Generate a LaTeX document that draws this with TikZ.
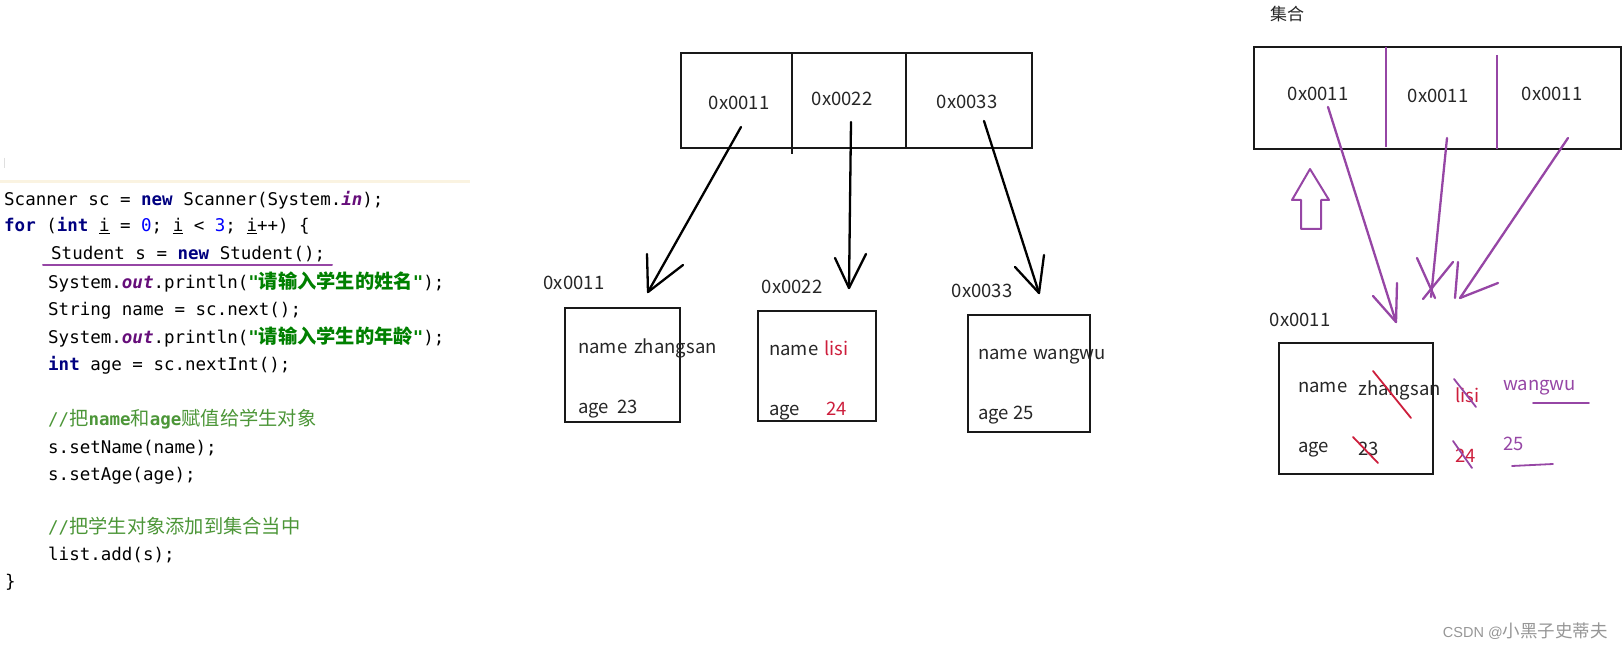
\documentclass[tikz,border=0pt]{standalone}
\usepackage{fontspec}
\setmonofont{DejaVu Sans Mono}
\newfontfamily\cjk{Noto Sans CJK SC}
\newfontfamily\zhcode{Noto Sans CJK SC}[Scale=1.1]
\newfontfamily\wmfont{Liberation Sans}
\usepackage{xcolor}
\usetikzlibrary{positioning}

\definecolor{kwblue}{RGB}{0,0,128}
\definecolor{fldpurple}{RGB}{102,14,122}
\definecolor{strgreen}{RGB}{0,128,0}
\definecolor{numblue}{RGB}{0,0,255}
\definecolor{cmtgreen}{RGB}{76,150,56}
\definecolor{penpurple}{RGB}{150,70,165}
\definecolor{penred}{RGB}{205,30,60}
\definecolor{wmgray}{RGB}{150,150,150}
\definecolor{bandbeige}{RGB}{250,243,225}

\newcommand{\kw}[1]{{\color{kwblue}\bfseries #1}}
\newcommand{\fld}[1]{{\color{fldpurple}\bfseries\itshape #1}}
\newcommand{\strg}[1]{{\color{strgreen}\bfseries #1}}
\newcommand{\numb}[1]{{\color{numblue}#1}}
\newcommand{\zh}[1]{{\zhcode #1}}
\newcommand{\cmt}[1]{{\color{cmtgreen}#1}}

\begin{document}
\begin{tikzpicture}[x=1pt, y=-1pt,
    code/.style={anchor=base west, inner sep=0pt, font=\ttfamily\frenchspacing\fontsize{17.5}{20}\selectfont},
    addr/.style={anchor=base, inner sep=0pt, text=black!85, font=\cjk\fontsize{18.5}{20}\selectfont},
    field/.style={anchor=base west, inner sep=0pt, text=black!85, font=\cjk\fontsize{18.5}{20}\selectfont},
    frame/.style={line width=2.8pt, black!90},
    hand/.style={line width=2.3pt, line cap=round, line join=round},
    purpleline/.style={hand, penpurple},
    redline/.style={line width=1.8pt, line cap=round, penred}]
    \useasboundingbox (0,0) rectangle (1624,652);

    % Editor band
    \draw[bandbeige, line width=3pt] (0,182) -- (470,182);
    \draw[gray!25, line width=1pt] (4,158) -- (4,168);

    % Code
    \node[code] (c1) at (4,206) {Scanner sc = \kw{new} Scanner(System.\fld{in});};
    \node[code] (c2) at (4,232) {\kw{for} (\kw{int} \underline{i} = \numb{0}; \underline{i} < \numb{3}; \underline{i}++) \{};
    \node[code] (c3) at (51,260) {Student s = \kw{new} Student();};
    \node[code] (c4) at (48,288) {System.\fld{out}.println(\strg{"\zh{请输入学生的姓名}"});};
    \node[code] (c5) at (48,315) {String name = sc.next();};
    \node[code] (c6) at (48,343) {System.\fld{out}.println(\strg{"\zh{请输入学生的年龄}"});};
    \node[code] (c7) at (48,370) {\kw{int} age = sc.nextInt();};
    \node[code] (c8) at (48,425) {\cmt{//\zh{把}\textbf{name}\zh{和}\textbf{age}\zh{赋值给学生对象}}};
    \node[code] (c9) at (48,453) {s.setName(name);};
    \node[code] (c10) at (48,480) {s.setAge(age);};
    \node[code] (c11) at (48,533) {\cmt{//\zh{把学生对象添加到集合当中}}};
    \node[code] (c12) at (48,560) {list.add(s);};
    \node[code] (c13) at (5,587) {\}};
    \draw[purpleline, line width=2pt] (43,265) -- (332,265);

    % Array of references
    \draw[frame] (681,53) rectangle (1032,148);
    \draw[frame] (792,53) -- (792,154);
    \draw[frame] (906,53) -- (906,148);
    \node[addr] (r1) at (739,110) {0x0011};
    \node[addr] (r2) at (842,106) {0x0022};
    \node[addr] (r3) at (967,109) {0x0033};

    % Student objects
    \draw[frame] (565,308) rectangle (680,422);
    \draw[frame] (758,311) rectangle (876,421);
    \draw[frame] (968,315) rectangle (1090,432);
    \node[addr] (o1) at (574,289) {0x0011};
    \node[addr] (o2) at (792,293) {0x0022};
    \node[addr] (o3) at (982,298) {0x0033};
    \node[field] (n1) at (578,353) {name};
    \node[field] (v1) at (634,353) {zhangsan};
    \node[field] (g1) at (578,413) {age};
    \node[field] (a1) at (617,413) {23};
    \node[field] (n2) at (769,355) {name};
    \node[field, text=penred] (v2) at (824,355) {lisi};
    \node[field] (g2) at (769,415) {age};
    \node[field, text=penred] (a2) at (826,415) {24};
    \node[field] (n3) at (978,359) {name};
    \node[field] (v3) at (1033,359) {wangwu};
    \node[field] (g3) at (978,419) {age};
    \node[field] (a3) at (1013,419) {25};

    % Hand drawn arrows
    \coordinate (s1) at (741,127);  \coordinate (t1) at (648,292);
    \coordinate (s2) at (851,122);  \coordinate (t2) at (849,288);
    \coordinate (s3) at (984,121);  \coordinate (t3) at (1039,293);
    \draw[hand] (s1) -- (t1);
    \draw[hand] (t1) ++(-1,-38) -- (t1) -- ++(35,-27);
    \draw[hand] (s2) -- (850,203) -- (t2);
    \draw[hand] (t2) ++(-14,-30) -- (t2) -- ++(17,-34);
    \draw[hand] (s3) -- (t3);
    \draw[hand] (t3) ++(-24,-26) -- (t3) -- ++(5,-38);

    % Collection
    \node[anchor=base, inner sep=0pt, text=black!85, font=\cjk\fontsize{17}{20}\selectfont] (coll) at (1287,21) {集合};
    \draw[frame] (1254,47) rectangle (1621,149);
    \draw[purpleline, line width=2.6pt, line cap=butt] (1386,47) -- (1386,147);
    \draw[purpleline, line width=2.6pt, line cap=butt] (1497,55) -- (1497,149);
    \node[addr] (e1) at (1318,101) {0x0011};
    \node[addr] (e2) at (1438,103) {0x0011};
    \node[addr] (e3) at (1552,101) {0x0011};

    % Hollow arrow
    \draw[purpleline, line width=2pt] (1310,169) -- (1329,200) -- (1321,200) -- (1321,229)
        -- (1301,229) -- (1301,200) -- (1292,200) -- cycle;

    % Purple arrows
    \coordinate (p1) at (1328,107);  \coordinate (q1) at (1396,322);
    \coordinate (p2) at (1447,138);  \coordinate (q2) at (1431,297);
    \coordinate (p3) at (1568,138);  \coordinate (q3) at (1460,298);
    \draw[purpleline] (p1) -- (q1);
    \draw[purpleline] (q1) ++(-23,-26) -- (q1) -- ++(1,-39);
    \draw[purpleline] (p2) -- (q2);
    \draw[purpleline] (1417,258) -- (1435,298);
    \draw[purpleline] (1423,299) -- (1453,262);
    \draw[purpleline] (p3) -- (q3);
    \draw[purpleline] (1458,262) -- (1455,298);
    \draw[purpleline] (1498,283) -- (q3);

    % Shared student object
    \node[addr] (o4) at (1300,326) {0x0011};
    \draw[frame] (1279,343) rectangle (1433,474);
    \node[field] (n4) at (1298,392) {name};
    \node[field] (v4) at (1358,395) {zhangsan};
    \node[field] (g4) at (1298,452) {age};
    \node[field] (a4) at (1358,455) {23};
    \node[field, text=penred] (v5) at (1455,402) {lisi};
    \node[field, text=penred] (a5) at (1455,462) {24};
    \node[field, text=penpurple] (v6) at (1503,390) {wangwu};
    \node[field, text=penpurple] (a6) at (1503,450) {25};
    \draw[redline] (1373,371) -- (1411,418);
    \draw[redline] (1353,437) -- (1378,463);
    \draw[purpleline, line width=1.8pt] (1454,379) -- (1476,407);
    \draw[purpleline, line width=1.8pt] (1453,441) -- (1472,468);
    \draw[purpleline, line width=1.8pt] (1533,403) -- (1589,403);
    \draw[purpleline, line width=1.8pt] (1512,466) -- (1553,464);

    % Watermark
    \node[anchor=base east, inner sep=0pt, text=wmgray] (wm) at (1608,637)
        {\wmfont\fontsize{14.5}{16}\selectfont CSDN @{\cjk\fontsize{17.5}{18}\selectfont 小黑子史蒂夫}};
\end{tikzpicture}
\end{document}
